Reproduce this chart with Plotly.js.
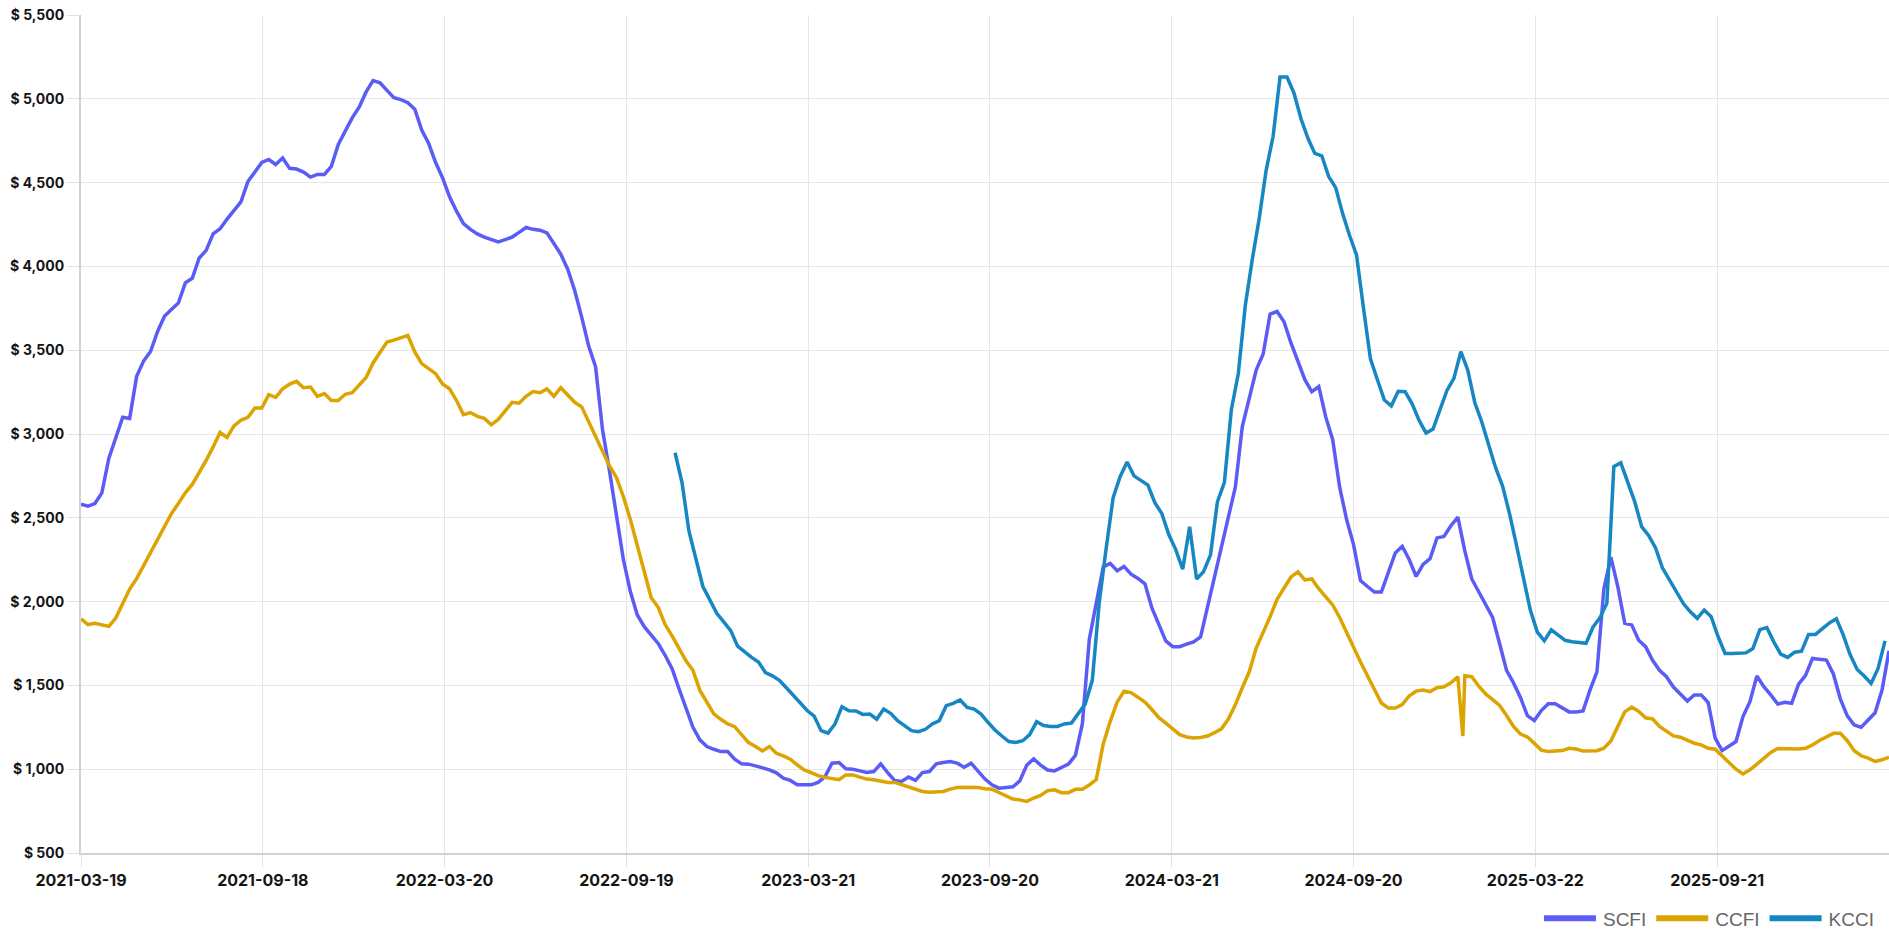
<!DOCTYPE html>
<html>
<head>
<meta charset="utf-8">
<script src="https://cdn.plot.ly/plotly-3.0.1.min.js"></script>
<style>
  html, body { margin: 0; padding: 0; background: #fff; }
  #chart { width: 1889px; height: 944px; }
</style>
</head>
<body>
<div id="chart"></div>
<script>
// weekly index readings, SCFI/CCFI on Fridays from 2021-03-19, KCCI on Mondays from 2022-11-07
const scfiStart = '2021-03-19';
const kcciStart = '2022-11-07';

const scfi = [
  2581, 2569, 2585, 2649, 2854, 2979, 3100, 3093, 3344, 3435,
  3492, 3610, 3702, 3743, 3781, 3902, 3929, 4050, 4096, 4194,
  4225, 4282, 4335, 4385, 4506, 4567, 4620, 4638, 4608, 4647,
  4585, 4581, 4563, 4533, 4549, 4549, 4597, 4727, 4806, 4886,
  4950, 5041, 5109, 5096, 5050, 5007, 4995, 4977, 4938, 4813,
  4733, 4620, 4528, 4415, 4330, 4255, 4221, 4194, 4175, 4162,
  4146, 4160, 4175, 4203, 4232, 4221, 4216, 4200, 4141, 4073,
  3982, 3856, 3697, 3526, 3401, 3025, 2780, 2500, 2250, 2060,
  1920, 1850, 1800, 1750, 1680, 1600, 1480, 1360, 1250, 1175,
  1135, 1119, 1105, 1105, 1060, 1032, 1030, 1020, 1010, 996,
  978, 947, 933, 907, 907, 907, 921, 956, 1036, 1040,
  1002, 1000, 990, 980, 986, 1032, 980, 933, 927, 953,
  933, 980, 986, 1032, 1040, 1046, 1036, 1012, 1036, 990,
  941, 907, 887, 891, 895, 930, 1024, 1062, 1024, 995,
  990, 1010, 1030, 1082, 1270, 1775, 2000, 2207, 2228, 2184,
  2210, 2164, 2138, 2106, 1962, 1861, 1766, 1731, 1731, 1746,
  1760, 1789, 1968, 2150, 2314, 2516, 2683, 3044, 3203, 3382,
  3477, 3716, 3731, 3670, 3543, 3428, 3324, 3252, 3283, 3102,
  2966, 2683, 2490, 2340, 2125, 2090, 2057, 2057, 2170, 2290,
  2330, 2251, 2150, 2222, 2256, 2380, 2389, 2453, 2504, 2303,
  2135, 2055, 1980, 1905, 1750, 1590, 1515, 1428, 1319, 1290,
  1350, 1391, 1391, 1365, 1342, 1342, 1348, 1472, 1581, 2077,
  2265, 2090, 1870, 1861, 1769, 1731, 1650, 1590, 1552, 1490,
  1452, 1407, 1443, 1443, 1397, 1185, 1111, 1135, 1165, 1314,
  1403, 1556, 1492, 1443, 1389, 1399, 1393, 1508, 1560, 1661,
  1657, 1651, 1568, 1420, 1318, 1264, 1250, 1294, 1337, 1472,
  1706
];

const ccfi = [
  1897, 1863, 1870, 1859, 1852, 1902, 1988, 2075, 2137, 2216,
  2296, 2371, 2449, 2524, 2585, 2649, 2699, 2768, 2843, 2923,
  3009, 2979, 3048, 3082, 3100, 3155, 3155, 3235, 3219, 3269,
  3298, 3314, 3276, 3280, 3225, 3241, 3200, 3200, 3237, 3246,
  3291, 3337, 3424, 3490, 3549, 3560, 3572, 3588, 3490, 3420,
  3390, 3360, 3298, 3270, 3200, 3116, 3128, 3105, 3093, 3055,
  3087, 3139, 3189, 3184, 3225, 3253, 3246, 3269, 3225, 3276,
  3230, 3189, 3162, 3071, 2979, 2888, 2809, 2740, 2626, 2490,
  2330, 2171, 2023, 1966, 1863, 1795, 1726, 1647, 1590, 1470,
  1400, 1330, 1298, 1270, 1254, 1205, 1159, 1135, 1109, 1135,
  1095, 1079, 1060, 1026, 996, 980, 962, 951, 943, 937,
  966, 966, 953, 941, 937, 931, 921, 921, 907, 891,
  877, 867, 863, 863, 867, 881, 891, 893, 893, 891,
  883, 881, 861, 843, 822, 817, 808, 828, 843, 872,
  877, 860, 860, 880, 880, 906, 938, 1150, 1284, 1400,
  1466, 1457, 1428, 1400, 1356, 1307, 1275, 1241, 1206, 1192,
  1186, 1189, 1198, 1218, 1241, 1299, 1385, 1486, 1581, 1723,
  1812, 1910, 2014, 2083, 2147, 2178, 2129, 2135, 2077, 2028,
  1980, 1905, 1815, 1727, 1639, 1558, 1477, 1395, 1365, 1365,
  1386, 1437, 1466, 1472, 1463, 1486, 1492, 1515, 1552, 1558,
  1552, 1495, 1449, 1415, 1380, 1320, 1255, 1210, 1192, 1154,
  1114, 1105, 1108, 1111, 1125, 1120, 1108, 1108, 1110, 1125,
  1169, 1255, 1342, 1371, 1345, 1307, 1300, 1255, 1224, 1199,
  1191, 1171, 1155, 1145, 1125, 1119, 1079, 1040, 1000, 972,
  996, 1030, 1066, 1100, 1123, 1123, 1119, 1121, 1125, 1145,
  1171, 1195, 1214, 1214, 1170, 1110, 1080, 1066, 1046, 1056,
  1072
];
// one off-cycle CCFI print (the sharp dip in January 2025)
const ccfiExtraDate = '2025-01-08';
const ccfiExtraValue = 1198;

const kcci = [
  2888, 2710, 2420, 2260, 2090,
  2010, 1930, 1879, 1827, 1734, 1698, 1667, 1640, 1576, 1557,
  1530, 1486, 1440, 1400, 1350, 1317, 1230, 1215, 1270, 1373,
  1349, 1347, 1327, 1329, 1298, 1359, 1333, 1290, 1258, 1230,
  1224, 1238, 1270, 1290, 1379, 1393, 1413, 1369, 1359, 1329,
  1280, 1234, 1198, 1165, 1160, 1170, 1206, 1284, 1261, 1255,
  1255, 1270, 1275, 1333, 1391, 1530, 1995, 2320, 2620, 2745,
  2833, 2750, 2722, 2695, 2590, 2525, 2400, 2310, 2193, 2447,
  2135, 2178, 2279, 2597, 2712, 3145, 3361, 3765, 4039, 4285,
  4573, 4775, 5130, 5130, 5035, 4882, 4766, 4674, 4660, 4536,
  4470, 4315, 4184, 4068, 3751, 3448, 3324, 3203, 3168, 3255,
  3252, 3180, 3081, 3006, 3030, 3139, 3260, 3332, 3491, 3381,
  3188, 3073, 2943, 2799, 2689, 2525, 2337, 2135, 1948, 1818,
  1766, 1832, 1803, 1769, 1760, 1757, 1751, 1847, 1904, 1990,
  2805, 2828, 2712, 2597, 2447, 2395, 2320, 2200, 2130, 2062,
  1988, 1939, 1900, 1950, 1910, 1790, 1691, 1691, 1694, 1694,
  1720, 1833, 1845, 1760, 1687, 1667, 1698, 1704, 1804, 1804,
  1839, 1873, 1897, 1800, 1681, 1595, 1556, 1512, 1601, 1766
];

const xTicks = ['2021-03-19', '2021-09-18', '2022-03-20', '2022-09-19', '2023-03-21',
                '2023-09-20', '2024-03-21', '2024-09-20', '2025-03-22', '2025-09-21'];
const xEnd = '2026-03-13';

function weeklyDates(start, n) {
    const t0 = Date.parse(start + 'T00:00:00Z');
    let out = [];
    for (let i = 0; i < n; i++) {
        out.push(new Date(t0 + i * 7 * 86400000).toISOString().slice(0, 10));
    }
    return out;
}

const scfiDates = weeklyDates(scfiStart, scfi.length);
const kcciDates = weeklyDates(kcciStart, kcci.length);

// put the extra CCFI print in date order
let ccfiDates = weeklyDates(scfiStart, ccfi.length);
let ccfiVals = ccfi.slice();
let k = ccfiDates.findIndex(d => d > ccfiExtraDate);
ccfiDates.splice(k, 0, ccfiExtraDate);
ccfiVals.splice(k, 0, ccfiExtraValue);

const yFont = { family: 'Inter, Roboto, sans-serif', size: 14, color: '#141414', weight: 700 };
const xFont = { family: 'Inter, Roboto, sans-serif', size: 16, color: '#141414', weight: 700 };

const traces = [
    { x: scfiDates, y: scfi, name: 'SCFI', type: 'scatter', mode: 'lines',
      line: { color: '#5b5cf6', width: 3.5 } },
    { x: ccfiDates, y: ccfiVals, name: 'CCFI', type: 'scatter', mode: 'lines',
      line: { color: '#dba400', width: 3.5 } },
    { x: kcciDates, y: kcci, name: 'KCCI', type: 'scatter', mode: 'lines',
      line: { color: '#1787c4', width: 3.5 } }
];

const layout = {
    width: 1889,
    height: 944,
    margin: { l: 81, r: 0, t: 15, b: 91 },
    paper_bgcolor: '#ffffff',
    plot_bgcolor: '#ffffff',
    showlegend: true,
    legend: {
        orientation: 'h',
        x: 0.995, xanchor: 'right',
        y: -0.078, yanchor: 'middle',
        itemwidth: 54,
        font: { family: 'Liberation Sans, Arial, sans-serif', size: 19, color: '#666666' },
        bgcolor: 'rgba(0,0,0,0)'
    },
    xaxis: {
        type: 'date',
        range: [scfiStart, xEnd],
        tickmode: 'array',
        tickvals: xTicks,
        ticktext: xTicks,
        showgrid: true,
        gridcolor: '#e6e6e6',
        gridwidth: 1,
        showline: true,
        linecolor: '#d2d2d2',
        linewidth: 2,
        ticks: 'outside',
        ticklen: 12,
        tickcolor: '#e2e2e2',
        tickfont: xFont,
        zeroline: false
    },
    yaxis: {
        range: [500, 5500],
        tick0: 500,
        dtick: 500,
        tickprefix: '$ ',
        tickformat: ',d',
        showgrid: true,
        gridcolor: '#e6e6e6',
        gridwidth: 1,
        showline: true,
        linecolor: '#d2d2d2',
        linewidth: 2,
        ticks: 'outside',
        ticklen: 12,
        tickcolor: '#e2e2e2',
        tickfont: yFont,
        zeroline: false
    }
};

Plotly.newPlot('chart', traces, layout, { displayModeBar: false, staticPlot: true }).then(function (gd) {
    // longer, heavier legend swatches like the original
    gd.querySelectorAll('.legend .js-line').forEach(function (p) {
        p.setAttribute('d', 'M5,0h52');
        p.style.strokeWidth = '6px';
    });
});
</script>
</body>
</html>
